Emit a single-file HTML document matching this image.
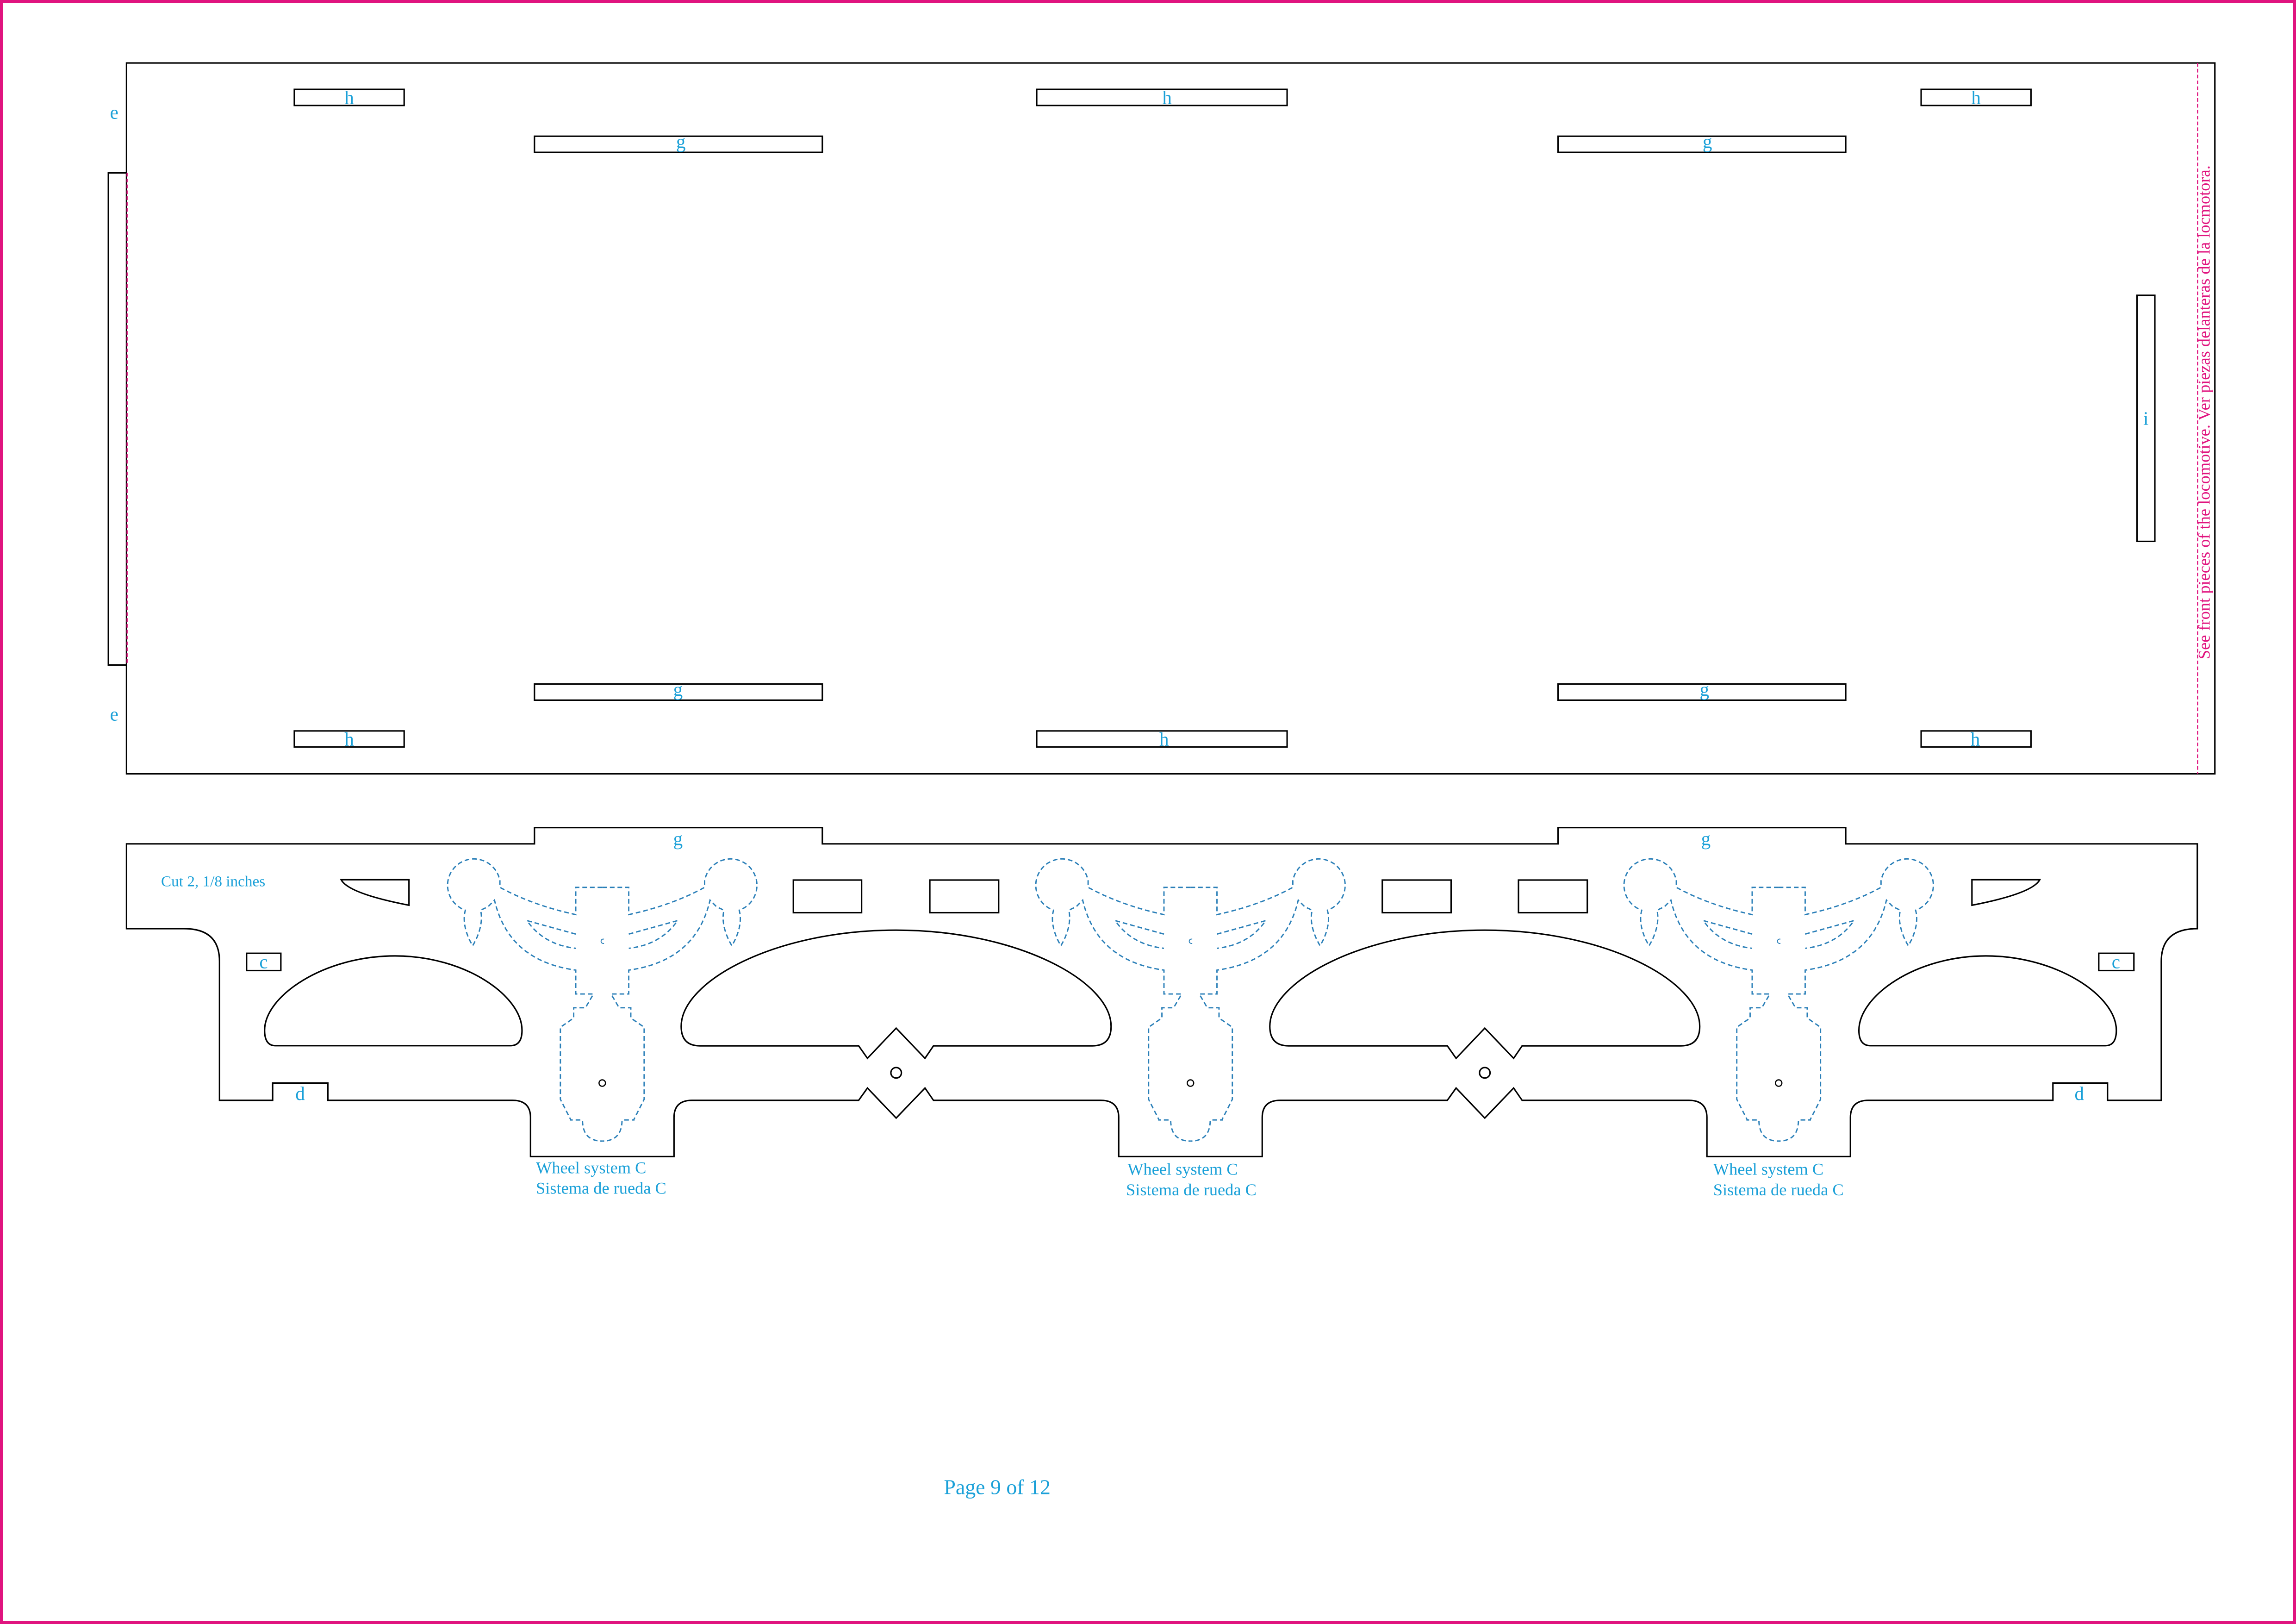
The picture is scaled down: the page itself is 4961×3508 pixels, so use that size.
<!DOCTYPE html>
<html><head><meta charset="utf-8"><style>
html,body{margin:0;padding:0;background:#fff;}
svg{display:block;}
</style></head><body>
<svg xmlns="http://www.w3.org/2000/svg" width="4961" height="3508" viewBox="0 0 1568 1108.7" preserveAspectRatio="none">
<defs>
<g id="half" fill="none" stroke="#2a7fb8" stroke-width="0.9" stroke-dasharray="3.2 2">
<path d="M0,605.8 H-18.1 V624.4 Q-47.6,618 -69.9,605.8 V601.3 A18,18 0 1 0 -93.5,621.4 C-96,630 -92,640 -88.5,645.6 C-85,640 -81,630 -83.1,621.4 L-78,619 L-73.6,614.5 Q-64,656 -18.1,662.3 V678.6 H-6 L-11.5,688 H-19.5 V695 L-28.6,701.3 V750.5 L-21.6,764.3 V764.6 H-13.5 Q-13.5,779 0,779"/>
<path d="M-18.1,637.7 L-51.4,628.5 Q-40,645 -18.1,647.4"/>
</g>
<g id="orn">
<use href="#half"/>
<use href="#half" transform="scale(-1,1)"/>
<path d="M1.2,641.2 A1.5,1.5 0 1 0 1.2,644" fill="none" stroke="#2a7fb8" stroke-width="0.6"/>
<circle cx="0" cy="739.4" r="2.2" fill="none" stroke="#000" stroke-width="0.8"/>
</g>
</defs>
<rect x="1" y="1" width="1566" height="1106.7" fill="none" stroke="#e0147f" stroke-width="2"/>

<!-- top panel -->
<g fill="none" stroke="#000" stroke-width="1">
<rect x="86.4" y="43" width="1426.2" height="485.3"/>
<path d="M86.4,118 H74 V454 H86.4"/>
<rect x="201" y="61" width="75" height="11"/>
<rect x="708" y="61" width="171" height="11"/>
<rect x="1312" y="61" width="75" height="11"/>
<rect x="365" y="93" width="196.6" height="11"/>
<rect x="1064" y="93" width="196.5" height="11"/>
<rect x="365" y="467" width="196.6" height="11"/>
<rect x="1064" y="467" width="196.5" height="11"/>
<rect x="201" y="499" width="75" height="11"/>
<rect x="708" y="499" width="171" height="11"/>
<rect x="1312" y="499" width="75" height="11"/>
<rect x="1459.4" y="201.6" width="12.2" height="168"/>
</g>
<g stroke="#e0147f" stroke-width="0.8" stroke-dasharray="2.5 1.5" fill="none">
<line x1="86.8" y1="118" x2="86.8" y2="454"/>
<line x1="1500.8" y1="43" x2="1500.8" y2="528.3"/>
</g>
<g font-family="'Liberation Serif', serif" fill="#1aa0d8" font-size="13" text-anchor="middle">
<text x="238.5" y="71">h</text><text x="797" y="71">h</text><text x="1349.5" y="71">h</text>
<text x="465" y="101">g</text><text x="1166" y="101">g</text>
<text x="463" y="475">g</text><text x="1164" y="475">g</text>
<text x="238.5" y="509">h</text><text x="795" y="509">h</text><text x="1349" y="509">h</text>
<text x="78" y="81">e</text><text x="78" y="492">e</text>
<text x="1465.5" y="290">i</text>
</g>
<text transform="translate(1509,281.5) rotate(-90)" font-family="'Liberation Serif', serif" font-size="11.5" fill="#e0147f" text-anchor="middle">See front pieces of the locomotive.  Ver piezas delanteras de la locmotora.</text>

<!-- bottom piece -->
<g fill="none" stroke="#000" stroke-width="1">
<path d="M86.4,576.1 H365 V565 H561.6 V576.1 H1064 V565 H1260.5 V576.1 H1500.6 V634 Q1476,634 1476,656.3 V751.2 H1439.3 V739.4 H1402 V751.2 H1276 Q1263.7,751.2 1263.7,763 V789.6 H1165.7 V763 Q1165.7,751.2 1153.4,751.2 H1039.5 L1033.7,742.8 L1014,763.3 L994.4,742.8 L988.4,751.2 H874.3 Q862,751.2 862,763 V789.6 H764 V763 Q764,751.2 751.7,751.2 H637.5 L631.7,742.8 L612,763.3 L592.4,742.8 L586.4,751.2 H472.6 Q460.3,751.2 460.3,763 V789.6 H362.3 V763 Q362.3,751.2 350,751.2 H223.9 V739.4 H186.2 V751.2 H149.9 V656.3 Q149.9,634 125.7,634 H86.4 Z"/>
<path d="M478,714 H586.4 L592.4,722.5 L612,701.9 L631.7,722.5 L637.5,714 H746 Q758.8,714 758.8,700.7 C758.8,670 695,635 612,635 C529,635 465.2,670 465.2,700.7 Q465.2,714 478,714 Z"/>
<path d="M880,714 H988.4 L994.4,722.5 L1014,701.9 L1033.7,722.5 L1039.5,714 H1148 Q1160.8,714 1160.8,700.7 C1160.8,670 1097,635 1014,635 C931,635 867.2,670 867.2,700.7 Q867.2,714 880,714 Z"/>
<path d="M188.2,713.9 H348.5 Q356.5,713.9 356.5,703.4 C356.5,680 318,652.6 269.8,652.6 C221,652.6 180.7,680 180.7,703.4 Q180.7,713.9 188.2,713.9 Z"/>
<path d="M1437.8,713.9 H1277.5 Q1269.5,713.9 1269.5,703.4 C1269.5,680 1308,652.6 1356.2,652.6 C1405,652.6 1445.3,680 1445.3,703.4 Q1445.3,713.9 1437.8,713.9 Z"/>
<path d="M233,600.6 H279.3 V618 Q238,610 233,600.6 Z"/>
<path d="M1393,600.6 H1346.7 V618 Q1388,610 1393,600.6 Z"/>
<rect x="541.8" y="600.8" width="46.6" height="22.3"/>
<rect x="635" y="600.8" width="47" height="22.3"/>
<rect x="944" y="600.8" width="47" height="22.3"/>
<rect x="1037" y="600.8" width="47" height="22.3"/>
<rect x="168.4" y="650.8" width="23.4" height="11.8"/>
<rect x="1433.3" y="650.8" width="24" height="11.8"/>
<circle cx="612" cy="732.4" r="3.6"/>
<circle cx="1014" cy="732.4" r="3.6"/>
</g>
<use href="#orn" transform="translate(411.3,0)"/>
<use href="#orn" transform="translate(813,0)"/>
<use href="#orn" transform="translate(1214.7,0)"/>

<g font-family="'Liberation Serif', serif" fill="#1aa0d8">
<g font-size="13" text-anchor="middle">
<text x="463" y="577">g</text><text x="1165" y="577">g</text>
<text x="180" y="661">c</text><text x="1445" y="661">c</text>
<text x="205" y="751">d</text><text x="1420" y="751">d</text>
</g>
<text x="110" y="605" font-size="10.5">Cut 2, 1/8 inches</text>
<g font-size="11.5">
<text x="366" y="801">Wheel system C</text><text x="366" y="815">Sistema de rueda C</text>
<text x="770" y="802">Wheel system C</text><text x="769" y="816">Sistema de rueda C</text>
<text x="1170" y="802">Wheel system C</text><text x="1170" y="816">Sistema de rueda C</text>
</g>
<text x="681" y="1020" font-size="14.5" text-anchor="middle">Page 9 of 12</text>
</g>
</svg>
</body></html>
